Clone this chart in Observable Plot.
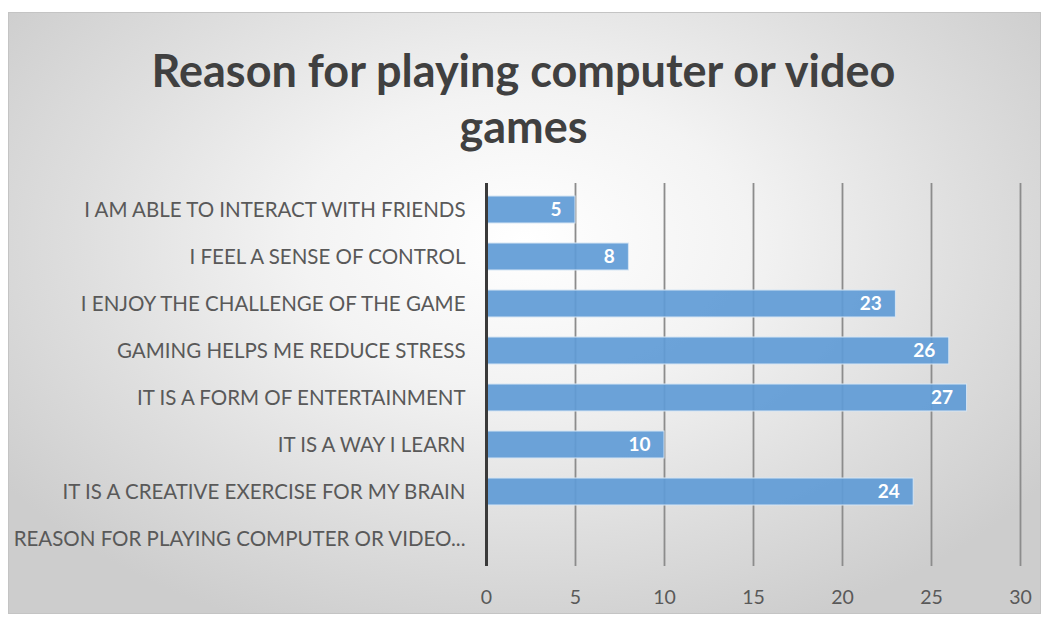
<!DOCTYPE html>
<html>
<head>
<meta charset="utf-8">
<script src="https://cdn.jsdelivr.net/npm/d3@7"></script>
<script src="https://cdn.jsdelivr.net/npm/@observablehq/plot@0.6"></script>
<style>
  html, body { margin: 0; padding: 0; background: #ffffff; }
  #page { position: relative; width: 1047px; height: 622px; overflow: hidden; }
  #panel {
    position: absolute; left: 8px; top: 12px; width: 1031px; height: 600px;
    border: 1px solid #c4c4c4;
    background: radial-gradient(ellipse 62% 70% at 50% 38%, #ffffff 0%, #f3f3f3 35%, #dedede 70%, #cdcdcd 100%);
  }
  #title {
    position: absolute; left: 0; top: 42px; width: 1047px; text-align: center;
    font-family: Lato, "Open Sans", sans-serif; font-weight: bold; font-size: 45px;
    line-height: 56px; color: #404040;
  }
  #chart { position: absolute; left: 0; top: 170px; }
</style>
</head>
<body>
<div id="page">
  <div id="panel"></div>
  <div id="title">Reason for playing computer or video<br>games</div>
  <div id="chart"></div>
</div>
<script>
const categories = [
  "I AM ABLE TO INTERACT WITH FRIENDS",
  "I FEEL A SENSE OF CONTROL",
  "I ENJOY THE CHALLENGE OF THE GAME",
  "GAMING HELPS ME REDUCE STRESS",
  "IT IS A FORM OF ENTERTAINMENT",
  "IT IS A WAY I LEARN",
  "IT IS A CREATIVE EXERCISE FOR MY BRAIN",
  "REASON FOR PLAYING COMPUTER OR VIDEO..."
];
const values = [5, 8, 23, 26, 27, 10, 24, null];
const xTicks = [0, 5, 10, 15, 20, 25, 30];
const gridTicks = [5, 10, 15, 20, 25, 30];

const data = categories.map((c, i) => ({category: c, value: values[i]}));
const barData = data.filter(d => d.value != null);

const chart = Plot.plot({
  width: 1047,
  height: 440,
  marginLeft: 486,
  marginRight: 27,
  marginTop: 13,
  marginBottom: 44,
  style: {background: "transparent", fontFamily: "Lato, 'Open Sans', sans-serif"},
  x: {domain: [0, 30]},
  y: {domain: categories, paddingInner: 0.42, paddingOuter: 0.21},
  marks: [
    Plot.gridX(gridTicks, {stroke: "#8c8c8c", strokeOpacity: 1, strokeWidth: 1.8}),
    Plot.barX(barData, {y: "category", x: "value", fill: "#5f9bd6", fillOpacity: 0.92, stroke: "#d6e5f4", strokeWidth: 1}),
    Plot.ruleX([0], {stroke: "#3a3a3a", strokeWidth: 3}),
    Plot.text(barData, {y: "category", x: "value", text: d => String(d.value), textAnchor: "end", dx: -14, fill: "#ffffff", fontWeight: "bold", fontSize: 19}),
    Plot.axisY({tickSize: 0, tickPadding: 21, fontSize: 20.5, color: "#595959", label: null}),
    Plot.axisX({ticks: xTicks, tickSize: 0, tickPadding: 24, fontSize: 19.5, color: "#595959", label: null})
  ]
});
document.getElementById("chart").appendChild(chart);
</script>
</body>
</html>
